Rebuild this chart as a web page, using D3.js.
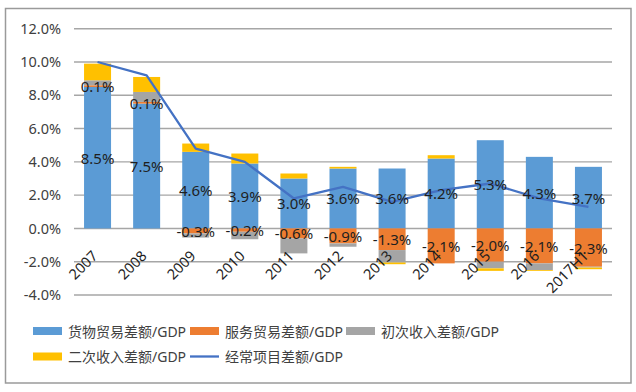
<!DOCTYPE html>
<html>
<head>
<meta charset="utf-8">
<script src="https://cdn.jsdelivr.net/npm/d3@7"></script>
<style>
  html, body { margin: 0; padding: 0; background: #fff; }
  svg { display: block; }
</style>
</head>
<body>
<svg id="chart" width="636" height="392"></svg>
<script>
const categories = ["2007","2008","2009","2010","2011","2012","2013","2014","2015","2016","2017H1"];
const goods     = [8.5, 7.5, 4.6, 3.9, 3.0, 3.6, 3.6, 4.2, 5.3, 4.3, 3.7];
const services  = [0.1, 0.1, -0.3, -0.2, -0.6, -0.9, -1.3, -2.1, -2.0, -2.1, -2.3];
const primary   = [0.3, 0.6, -0.25, -0.45, -0.9, -0.2, -0.75, 0.0, -0.4, -0.4, -0.05];
const secondary = [1.0, 0.9, 0.5, 0.6, 0.3, 0.1, -0.1, 0.2, -0.15, -0.05, -0.1];
const current   = [10.0, 9.2, 4.8, 4.0, 1.8, 2.5, 1.6, 2.3, 2.7, 1.8, 1.3];
const yTicks = [-4, -2, 0, 2, 4, 6, 8, 10, 12];
const seriesNames = ["货物贸易差额/GDP","服务贸易差额/GDP","初次收入差额/GDP","二次收入差额/GDP","经常项目差额/GDP"];
const colors = ["#5B9BD5","#ED7D31","#A5A5A5","#FFC000","#4472C4"];

const svg = d3.select("#chart");
const font = "'Noto Sans','Noto Sans CJK SC',sans-serif";

// frame
svg.append("rect").attr("x",5.5).attr("y",8.5).attr("width",625.5).attr("height",374.5)
  .attr("fill","#fff").attr("stroke","#9a9a9a").attr("stroke-width",1.5);

const x = d3.scaleBand().domain(categories).range([73, 613]).paddingInner(0.45).paddingOuter(0.225);
const y = d3.scaleLinear().domain([-4, 12]).range([295, 28.7]);

// gridlines
svg.append("g").selectAll("line").data(yTicks).join("line")
  .attr("x1",74).attr("x2",612)
  .attr("y1",d=>y(d)).attr("y2",d=>y(d))
  .attr("stroke","#a6a6a6").attr("stroke-width",1.4);

// y axis labels
const yAxis = d3.axisLeft(y).tickValues(yTicks).tickSize(0).tickPadding(0)
  .tickFormat(d => d.toFixed(1) + "%");
const yg = svg.append("g").attr("transform","translate(61,0)").call(yAxis);
yg.select(".domain").remove();
yg.selectAll("text").attr("font-family",font).attr("font-size","14.5px").attr("fill","#404040");

// stacked data
const keys = ["goods","services","primary","secondary"];
const rows = categories.map((c,i)=>({cat:c, goods:goods[i], services:services[i], primary:primary[i], secondary:secondary[i]}));
const stack = d3.stack().keys(keys).offset(d3.stackOffsetDiverging)(rows);

const gBars = svg.append("g");
stack.forEach((layer, li) => {
  gBars.append("g").attr("fill", colors[li]).selectAll("rect").data(layer).join("rect")
    .attr("x", d => x(d.data.cat))
    .attr("width", x.bandwidth())
    .attr("y", d => y(Math.max(d[0], d[1])))
    .attr("height", d => Math.abs(y(d[0]) - y(d[1])));
});

// current account line
const line = d3.line().x((d,i)=>x(categories[i]) + x.bandwidth()/2).y(d=>y(d));
svg.append("path").datum(current).attr("d", line)
  .attr("fill","none").attr("stroke",colors[4]).attr("stroke-width",2.3).attr("stroke-linejoin","round");

// data labels for goods and services
[0,1].forEach(li => {
  svg.append("g").selectAll("text").data(stack[li]).join("text")
    .attr("x", d => x(d.data.cat) + x.bandwidth()/2)
    .attr("y", d => y((d[0]+d[1])/2))
    .attr("text-anchor","middle").attr("dominant-baseline","central")
    .attr("font-family",font).attr("font-size","15px").attr("fill","#1f1f1f")
    .text(d => (d.data[keys[li]]).toFixed(1) + "%");
});

// x labels (rotated)
svg.append("g").selectAll("text").data(categories).join("text")
  .attr("transform", d => `translate(${x(d) + x.bandwidth()/2 + 1},257) rotate(-45)`)
  .attr("text-anchor","end")
  .attr("font-family",font).attr("font-size","14.5px").attr("fill","#1f1f1f")
  .text(d => d);

// legend
const legendItems = [
  {name: seriesNames[0], color: colors[0], type:"rect", x:33, y:331},
  {name: seriesNames[1], color: colors[1], type:"rect", x:190, y:331},
  {name: seriesNames[2], color: colors[2], type:"rect", x:346, y:331},
  {name: seriesNames[3], color: colors[3], type:"rect", x:33, y:356.5},
  {name: seriesNames[4], color: colors[4], type:"line", x:190, y:356.5}
];
const lg = svg.append("g").selectAll("g").data(legendItems).join("g")
  .attr("transform", d => `translate(${d.x},${d.y})`);
lg.filter(d=>d.type==="rect").append("rect")
  .attr("x",0).attr("y",-4).attr("width",29).attr("height",8).attr("fill",d=>d.color);
lg.filter(d=>d.type==="line").append("line")
  .attr("x1",0).attr("x2",29).attr("y1",0).attr("y2",0)
  .attr("stroke",d=>d.color).attr("stroke-width",2.3);
lg.append("text").attr("x",35).attr("y",0).attr("dominant-baseline","central")
  .attr("font-family",font).attr("font-size","14px").attr("fill","#404040")
  .text(d=>d.name);
</script>
</body>
</html>
